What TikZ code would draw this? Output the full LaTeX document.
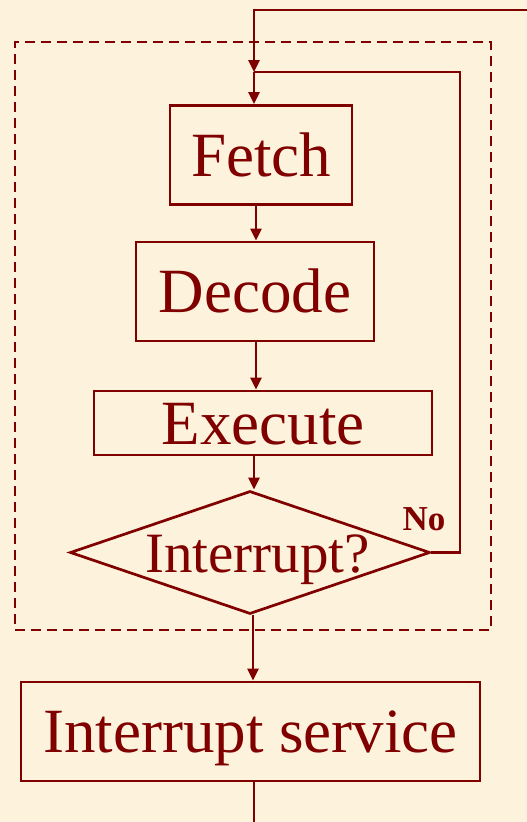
\documentclass[tikz,border=0pt]{standalone}
\usepackage{fontspec}
\setmainfont{Liberation Serif}
\usetikzlibrary{arrows.meta,shapes.geometric}
\definecolor{ink}{RGB}{128,0,0}
\definecolor{paper}{RGB}{253,243,221}
\begin{document}
\begin{tikzpicture}[x=1pt,y=-1pt,
  box/.style={draw=ink, line width=2.7pt, rectangle, inner sep=0pt, text=ink,
    font=\fontsize{63}{70}\selectfont, text height=42pt, text depth=0pt},
  arr/.style={draw=ink, line width=2.6pt, -{Triangle[width=11pt,length=12pt]}},
  ln/.style={draw=ink, line width=2.6pt},
]
\fill[paper] (0,0) rectangle (527,822);
\useasboundingbox (0,0) rectangle (527,822);

% dashed frame
\node[draw=ink, line width=2.6pt, dash pattern=on 10pt off 6pt, rectangle,
  minimum width=476pt, minimum height=588pt, inner sep=0pt] (frame) at (253,336) {};

% boxes
\node[box, minimum width=182pt, minimum height=99pt] (fetch) at (261,155) {Fetch};
\node[box, minimum width=238pt, minimum height=99pt] (decode) at (255,291.5) {Decode};
\node[box, minimum width=338pt, minimum height=64pt] (execute) at (263,423) {Execute};
\node[draw=ink, line width=2.7pt, diamond, aspect=1, inner sep=0pt,
  minimum width=360pt, minimum height=123pt] (dec) at (250,552.5) {};
\node[text=ink, inner sep=0pt, font=\fontsize{57}{64}\selectfont, text height=37pt, text depth=0pt]
  (dectext) at (257.5,553.5) {Interrupt?};
\node[box, minimum width=459pt, minimum height=99pt] (service) at (250.5,731.5) {Interrupt service};

\node[text=ink, inner sep=0pt, anchor=base, font=\bfseries\fontsize{35}{40}\selectfont]
  (no) at (424,530) {No};

% helper coordinates
\coordinate (top) at (540,10);
\coordinate (junc) at (254,72);
\coordinate (loopx) at (460,72);
\coordinate (a1) at (256,0);
\coordinate (a2) at (254,0);
\coordinate (a3) at (253,0);
\coordinate (bottom) at (254,830);

% connectors
\draw[arr] (top) -| (junc);
\draw[arr] (junc) -- (fetch.north -| junc);
\draw[arr] (fetch.south -| a1) -- (decode.north -| a1);
\draw[arr] (decode.south -| a1) -- (execute.north -| a1);
\draw[arr] (execute.south -| a2) -- (dec.north -| a2);
\draw[ln] (dec.east) -| (loopx) -- (junc);
\draw[arr] (dec.south -| a3) -- (service.north -| a3);
\draw[ln] (service.south -| bottom) -- (bottom);
\end{tikzpicture}
\end{document}
